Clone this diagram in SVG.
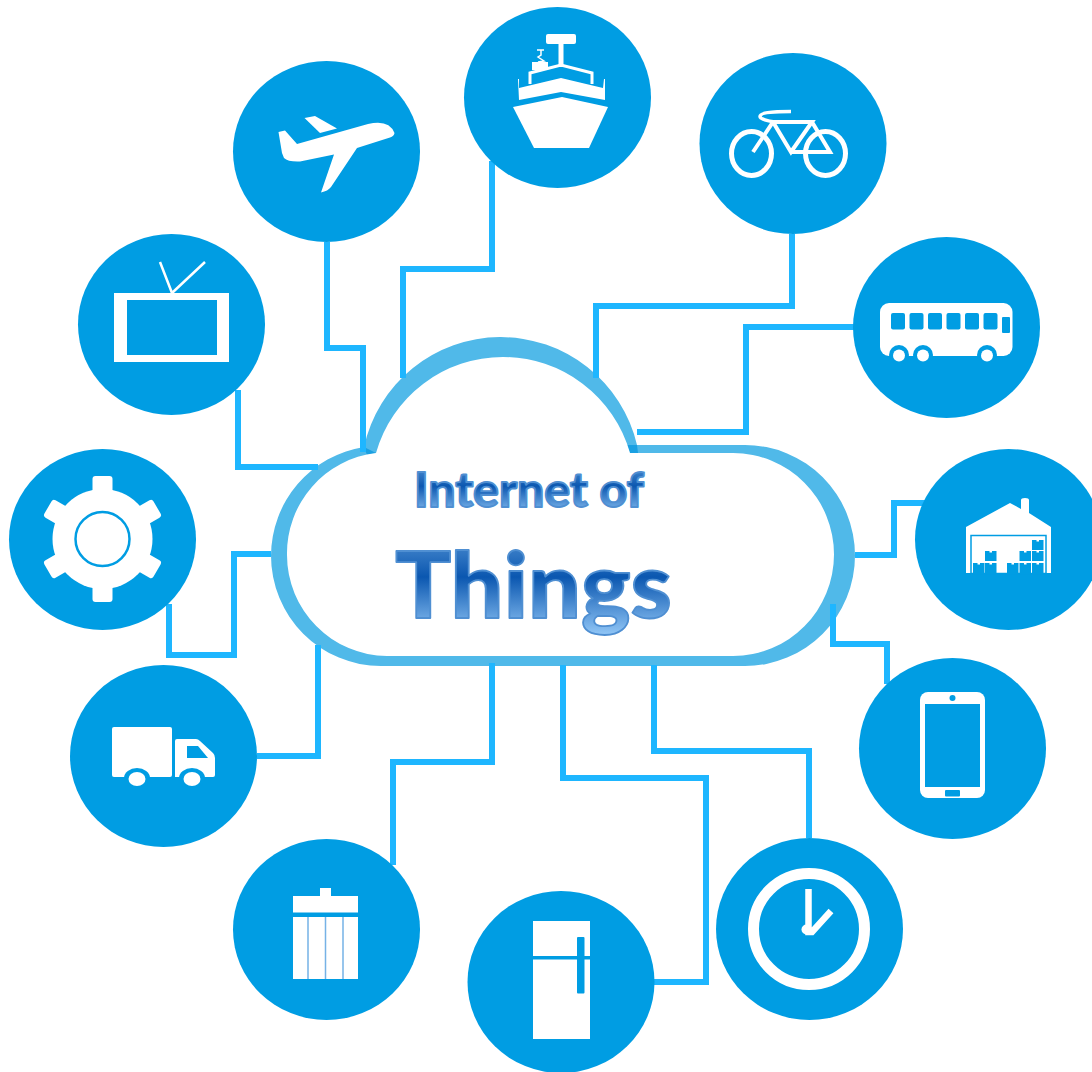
<svg xmlns="http://www.w3.org/2000/svg" width="1092" height="1072" viewBox="0 0 1092 1072">
<style>
.disc{fill:#009de3}
.w{fill:#fff}
.b{fill:#009de3}
.ws{fill:none;stroke:#fff}
.conn{fill:none;stroke:#1eb6ff;stroke-width:6;stroke-linejoin:miter}
.title{font-family:Lato,"Open Sans","DejaVu Sans",sans-serif;font-weight:900;fill:url(#tg);stroke:#4f8fd2;stroke-width:1.800;stroke-linejoin:round}
</style>
<defs>
<linearGradient id="tg" x1="0" y1="0" x2="0" y2="1">
<stop offset="0" stop-color="#5c9ad8"/><stop offset=".45" stop-color="#0b57b0"/><stop offset="1" stop-color="#98ccfa"/>
</linearGradient>
<g id="box">
<rect class="b" width="11.500" height="10"/>
<rect class="w" x="4.500" width="2.500" height="1.500"/>
</g>
</defs>
<rect width="1092" height="1072" fill="#fff"/>
<g id="cloud">
<path fill="#50b9e9" d="M381 666A110 110.500 0 0 1 271 555.500A110 110.500 0 0 1 364 447A140 140 0 0 1 637 445H745A110 110.500 0 0 1 745 666Z"/>
<path fill="#1aa0e2" d="M364 447L376 453L367 455ZM627 445H637L638 453H630Z"/>
<path class="w" d="M387 656A101 101 0 0 1 287 555A101 101 0 0 1 376 453A132 132 0 0 1 630 453H733A101 101.500 0 0 1 733 656Z"/>
</g>
<g id="connectors">
<path class="conn" d="M327 242V348H363V452"/>
<path class="conn" d="M492 161V269H403V378"/>
<path class="conn" d="M792 234V306H596V378"/>
<path class="conn" d="M855 327H746V432H637"/>
<path class="conn" d="M855 555H894V503H925"/>
<path class="conn" d="M833 604V644H887V684"/>
<path class="conn" d="M654 665V751H809V838"/>
<path class="conn" d="M563 665V778H706V982H654"/>
<path class="conn" d="M492 663V762H393V865"/>
<path class="conn" d="M257 756H318V645"/>
<path class="conn" d="M169 604V655H234V554H271"/>
<path class="conn" d="M238 390V467H318"/>
</g>
<g id="node-plane">
<ellipse class="disc" cx="326.500" cy="151.500" rx="93.500" ry="90.500"/>
<path class="w" d="M278.500 132L285 130.500L297 144L368 124Q389 119 394.500 133Q394 136 390 137.500L357 148L331 187Q328 191 321 192.500L334 154.500L300 161.500Q288 162 284 158L282 153Z"/>
<path class="w" d="M304.500 118L315 116L337 128.500L320 133Z"/>
</g>
<g id="node-ship">
<ellipse class="disc" cx="557.500" cy="97.500" rx="93.500" ry="90.500"/>
<rect class="w" x="546" y="34" width="30" height="10" rx="2"/>
<rect class="w" x="558.500" y="44" width="5" height="23"/>
<rect class="w" x="532" y="62" width="16" height="8"/>
<path class="ws" stroke-width="1.500" d="M537 50H544M541 50V55L538 57L544 61L538 62"/>
<path class="ws" stroke-width="3" d="M530 84V73L561 65L592 73V84"/>
<path class="w" d="M518 79H519V88L561 78L603 88L604 79H605V100L561 92L519 100Z"/>
<path class="w" d="M513 107L562 97L608 107L589 148H534Z"/>
</g>
<g id="node-bike">
<ellipse class="disc" cx="793" cy="143.500" rx="93.500" ry="90.500"/>
<ellipse class="ws" cx="751.500" cy="153.500" rx="20" ry="22" stroke-width="5"/>
<ellipse class="ws" cx="825.500" cy="153.500" rx="20" ry="22" stroke-width="5"/>
<path class="ws" stroke-width="4" d="M753 152L773 122H812L791 152L773 122M790 152H830L812 122"/>
<path class="ws" stroke-width="3.500" d="M791 111.500C770 111.500 760 113 760 116.500C760 119 768 121 775 122"/>
</g>
<g id="node-bus">
<ellipse class="disc" cx="946.500" cy="327.500" rx="93.500" ry="90.500"/>
<rect class="w" x="880" y="303" width="132.500" height="53" rx="9"/>
<g class="b">
<rect x="891" y="313" width="14" height="16.500" rx="2"/>
<rect x="909.500" y="313" width="14" height="16.500" rx="2"/>
<rect x="928" y="313" width="14" height="16.500" rx="2"/>
<rect x="946.500" y="313" width="14" height="16.500" rx="2"/>
<rect x="965" y="313" width="14" height="16.500" rx="2"/>
<rect x="983.500" y="313" width="14" height="16.500" rx="2"/>
<rect x="1002" y="317" width="8" height="16" rx="1"/>
<circle cx="899" cy="355" r="10"/><circle cx="923" cy="355" r="10"/><circle cx="987" cy="355" r="10"/>
</g>
<circle class="w" cx="899" cy="355.500" r="6"/><circle class="w" cx="923" cy="355.500" r="6"/><circle class="w" cx="987" cy="355.500" r="6"/>
</g>
<g id="node-warehouse">
<ellipse class="disc" cx="1008.500" cy="539.500" rx="93.500" ry="90.500"/>
<path class="w" d="M966 527L1010 503L1021 509V500Q1021 498 1025 498Q1029 498 1029 500V513L1051 527V573H966Z"/>
<rect class="w" x="971" y="535.500" width="75" height="38" stroke="#009de3" stroke-width="1.500"/>
<use href="#box" x="973" y="563"/><use href="#box" x="985" y="563"/>
<use href="#box" x="1007" y="563"/><use href="#box" x="1019.500" y="563"/><use href="#box" x="1032" y="563"/>
<use href="#box" x="985" y="551"/><use href="#box" x="1019.500" y="551"/><use href="#box" x="1032" y="551"/>
<use href="#box" x="1032" y="540"/>
</g>
<g id="node-phone">
<ellipse class="disc" cx="952.500" cy="748.500" rx="93.500" ry="90.500"/>
<rect class="w" x="920" y="692" width="65" height="106" rx="8"/>
<rect class="b" x="925" y="704" width="55" height="83"/>
<circle class="b" cx="952.500" cy="698" r="3"/>
<rect class="b" x="945" y="790" width="15" height="6.500" rx="1"/>
</g>
<g id="node-clock">
<ellipse class="disc" cx="809.500" cy="929" rx="93.500" ry="91"/>
<circle class="ws" cx="809" cy="929" r="55.500" stroke-width="11"/>
<path class="ws" stroke-width="6.500" d="M808.500 889V932H812L831 911"/>
<circle class="w" cx="806.500" cy="929.500" r="5"/>
</g>
<g id="node-fridge">
<ellipse class="disc" cx="561" cy="982" rx="93.500" ry="91"/>
<rect class="w" x="533" y="921" width="57" height="118"/>
<rect class="b" x="533" y="956" width="57" height="3.500"/>
<rect class="b" x="577" y="937" width="7.500" height="56.500" rx="1"/>
</g>
<g id="node-trash">
<ellipse class="disc" cx="326.500" cy="929.500" rx="93.500" ry="90.500"/>
<path class="w" d="M320 888H331V896H358V912.500H293V896H320Z"/>
<rect class="w" x="293" y="917" width="65" height="62"/>
<path d="M308 917V979M325.500 917V979M343 917V979" fill="none" stroke="#76b2e6" stroke-width="1.500"/>
</g>
<g id="node-truck">
<ellipse class="disc" cx="163.500" cy="756" rx="93.500" ry="91"/>
<rect class="w" x="112" y="727" width="60" height="50" rx="2"/>
<path class="w" d="M175 741Q175 739 177 739H196Q198 739 200 741L213 753Q215 755 215 758V775Q215 777 213 777H175Z"/>
<path class="b" d="M187 746H198L208 758H187Z"/>
<ellipse class="b" cx="137" cy="778" rx="13" ry="10"/><ellipse class="b" cx="192" cy="778" rx="13" ry="10"/>
<ellipse class="w" cx="137" cy="779" rx="8.500" ry="7"/><ellipse class="w" cx="192" cy="779" rx="8.500" ry="7"/>
</g>
<g id="node-gear">
<ellipse class="disc" cx="102.500" cy="539.500" rx="93.500" ry="90.500"/>
<circle class="w" cx="102.500" cy="539" r="50"/>
<g class="w">
<rect x="92.500" y="476" width="20" height="24" rx="3"/>
<rect x="92.500" y="476" width="20" height="24" rx="3" transform="rotate(60 102.500 539)"/>
<rect x="92.500" y="476" width="20" height="24" rx="3" transform="rotate(120 102.500 539)"/>
<rect x="92.500" y="476" width="20" height="24" rx="3" transform="rotate(180 102.500 539)"/>
<rect x="92.500" y="476" width="20" height="24" rx="3" transform="rotate(240 102.500 539)"/>
<rect x="92.500" y="476" width="20" height="24" rx="3" transform="rotate(300 102.500 539)"/>
</g>
<circle cx="102.500" cy="539" r="27" fill="#fff" stroke="#009de3" stroke-width="2.500"/>
</g>
<g id="node-tv">
<ellipse class="disc" cx="171.500" cy="324.500" rx="93.500" ry="90.500"/>
<rect class="w" x="114" y="293" width="115" height="69"/>
<rect class="b" x="127" y="300" width="90" height="55"/>
<path class="ws" stroke-width="2.500" d="M160 262L172 293L205 262"/>
</g>
<g id="title">
<text class="title" x="414" y="507" font-size="47" textLength="230" lengthAdjust="spacingAndGlyphs">Internet of</text>
<text class="title" x="395" y="618" font-size="92" textLength="277" lengthAdjust="spacingAndGlyphs">Things</text>
</g>
</svg>
